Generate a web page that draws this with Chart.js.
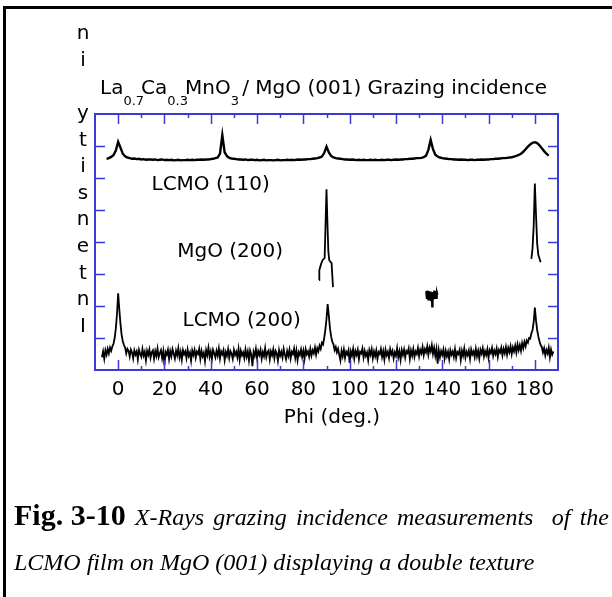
<!DOCTYPE html>
<html>
<head>
<meta charset="utf-8">
<title>LCMO / MgO grazing incidence phi scan</title>
<script src="https://cdn.jsdelivr.net/npm/chart.js@4.4.1/dist/chart.umd.min.js"></script>
<style>
  html, body { margin: 0; padding: 0; background: #fff; overflow: hidden; }
  #page { position: relative; width: 612px; height: 597px; overflow: hidden; }
  #border { position: absolute; left: 3px; top: 6px; width: 700px; height: 700px;
            border-left: 3px solid #000; border-top: 3px solid #000; }
  #plot { position: absolute; left: 0; top: 0; }
  .cap { position: absolute; left: 14px; font-family: "Liberation Serif", "Times New Roman", serif;
         font-size: 24px; font-style: italic; line-height: 30px; white-space: nowrap; }
  .cap b { display: inline-block; font-style: normal; font-size: 30px; line-height: 30px; }
  #cap1 { top: 500px; width: 595px; white-space: normal; text-align: justify; text-align-last: justify; }
  #cap2 { top: 547px; }
</style>
</head>
<body>
<div id="page">
  <div id="border"></div>
  <canvas id="plot" width="612" height="597"></canvas>
  <div class="cap" id="cap1"><b>Fig. 3-10</b> X-Rays grazing incidence measurements &nbsp;of the</div>
  <div class="cap" id="cap2">LCMO film on MgO (001) displaying a double texture</div>
</div>
<script>
// LCMO (110) scan, offset to the top of the plot (1 deg steps)
var phi110 = [
  -5, -4, -3, -2, -1, 0, 1, 2,
  3, 4, 5, 6, 7, 8, 9, 10, 11, 12,
  13, 14, 15, 16, 17, 18, 19, 20, 21, 22,
  23, 24, 25, 26, 27, 28, 29, 30, 31, 32,
  33, 34, 35, 36, 37, 38, 39, 40, 41, 42,
  43, 44, 45, 46, 47, 48, 49, 50, 51, 52,
  53, 54, 55, 56, 57, 58, 59, 60, 61, 62,
  63, 64, 65, 66, 67, 68, 69, 70, 71, 72,
  73, 74, 75, 76, 77, 78, 79, 80, 81, 82,
  83, 84, 85, 86, 87, 88, 89, 90, 91, 92,
  93, 94, 95, 96, 97, 98, 99, 100, 101, 102,
  103, 104, 105, 106, 107, 108, 109, 110, 111, 112,
  113, 114, 115, 116, 117, 118, 119, 120, 121, 122,
  123, 124, 125, 126, 127, 128, 129, 130, 131, 132,
  133, 134, 135, 136, 137, 138, 139, 140, 141, 142,
  143, 144, 145, 146, 147, 148, 149, 150, 151, 152,
  153, 154, 155, 156, 157, 158, 159, 160, 161, 162,
  163, 164, 165, 166, 167, 168, 169, 170, 171, 172,
  173, 174, 175, 176, 177, 178, 179, 180, 181, 182,
  183, 184, 185, 186
];
var lcmo110 = [
  6.60, 6.62, 6.66, 6.72, 6.86, 7.13, 6.95, 6.76,
  6.68, 6.64, 6.62, 6.60, 6.61, 6.59, 6.60, 6.58, 6.59, 6.57,
  6.58, 6.58, 6.57, 6.58, 6.56, 6.57, 6.58, 6.56, 6.57, 6.56,
  6.57, 6.55, 6.56, 6.57, 6.55, 6.56, 6.56, 6.57, 6.56, 6.57,
  6.56, 6.57, 6.57, 6.58, 6.57, 6.58, 6.58, 6.59, 6.60, 6.62,
  6.64, 6.76, 7.34, 6.80, 6.68, 6.63, 6.61, 6.60, 6.59, 6.58,
  6.58, 6.57, 6.58, 6.56, 6.57, 6.57, 6.56, 6.57, 6.55, 6.56,
  6.57, 6.55, 6.56, 6.56, 6.55, 6.56, 6.57, 6.55, 6.56, 6.56,
  6.57, 6.56, 6.57, 6.56, 6.57, 6.58, 6.57, 6.58, 6.58, 6.59,
  6.59, 6.60, 6.61, 6.62, 6.64, 6.67, 6.78, 6.98, 6.80, 6.69,
  6.64, 6.62, 6.61, 6.60, 6.59, 6.58, 6.58, 6.57, 6.58, 6.57,
  6.56, 6.57, 6.56, 6.57, 6.56, 6.56, 6.57, 6.56, 6.57, 6.56,
  6.56, 6.57, 6.56, 6.57, 6.57, 6.56, 6.57, 6.58, 6.57, 6.58,
  6.58, 6.59, 6.59, 6.60, 6.60, 6.61, 6.62, 6.62, 6.63, 6.65,
  6.70, 6.88, 7.19, 6.90, 6.73, 6.67, 6.64, 6.62, 6.61, 6.60,
  6.59, 6.59, 6.58, 6.58, 6.57, 6.58, 6.57, 6.57, 6.56, 6.57,
  6.57, 6.56, 6.57, 6.57, 6.58, 6.57, 6.58, 6.58, 6.59, 6.59,
  6.60, 6.60, 6.61, 6.62, 6.62, 6.63, 6.64, 6.65, 6.67, 6.69,
  6.72, 6.76, 6.82, 6.90, 6.98, 7.05, 7.10, 7.12, 7.09, 7.02,
  6.93, 6.84, 6.76, 6.70
];

// LCMO (200) scan, bottom trace (0.5 deg steps)
var phi200 = [
  -7, -6.5, -6, -5.5, -5, -4.5, -4, -3.5, -3, -2.5, -2, -1.5, -1, -0.5, 0, 0.5, 1, 1.5, 2, 2.5,
  3, 3.5, 4, 4.5, 5, 5.5, 6, 6.5, 7, 7.5, 8, 8.5, 9, 9.5, 10, 10.5, 11, 11.5, 12, 12.5,
  13, 13.5, 14, 14.5, 15, 15.5, 16, 16.5, 17, 17.5, 18, 18.5, 19, 19.5, 20, 20.5, 21, 21.5, 22, 22.5,
  23, 23.5, 24, 24.5, 25, 25.5, 26, 26.5, 27, 27.5, 28, 28.5, 29, 29.5, 30, 30.5, 31, 31.5, 32, 32.5,
  33, 33.5, 34, 34.5, 35, 35.5, 36, 36.5, 37, 37.5, 38, 38.5, 39, 39.5, 40, 40.5, 41, 41.5, 42, 42.5,
  43, 43.5, 44, 44.5, 45, 45.5, 46, 46.5, 47, 47.5, 48, 48.5, 49, 49.5, 50, 50.5, 51, 51.5, 52, 52.5,
  53, 53.5, 54, 54.5, 55, 55.5, 56, 56.5, 57, 57.5, 58, 58.5, 59, 59.5, 60, 60.5, 61, 61.5, 62, 62.5,
  63, 63.5, 64, 64.5, 65, 65.5, 66, 66.5, 67, 67.5, 68, 68.5, 69, 69.5, 70, 70.5, 71, 71.5, 72, 72.5,
  73, 73.5, 74, 74.5, 75, 75.5, 76, 76.5, 77, 77.5, 78, 78.5, 79, 79.5, 80, 80.5, 81, 81.5, 82, 82.5,
  83, 83.5, 84, 84.5, 85, 85.5, 86, 86.5, 87, 87.5, 88, 88.5, 89, 89.5, 90, 90.5, 91, 91.5, 92, 92.5,
  93, 93.5, 94, 94.5, 95, 95.5, 96, 96.5, 97, 97.5, 98, 98.5, 99, 99.5, 100, 100.5, 101, 101.5, 102, 102.5,
  103, 103.5, 104, 104.5, 105, 105.5, 106, 106.5, 107, 107.5, 108, 108.5, 109, 109.5, 110, 110.5, 111, 111.5, 112, 112.5,
  113, 113.5, 114, 114.5, 115, 115.5, 116, 116.5, 117, 117.5, 118, 118.5, 119, 119.5, 120, 120.5, 121, 121.5, 122, 122.5,
  123, 123.5, 124, 124.5, 125, 125.5, 126, 126.5, 127, 127.5, 128, 128.5, 129, 129.5, 130, 130.5, 131, 131.5, 132, 132.5,
  133, 133.5, 134, 134.5, 135, 135.5, 136, 136.5, 137, 137.5, 138, 138.5, 139, 139.5, 140, 140.5, 141, 141.5, 142, 142.5,
  143, 143.5, 144, 144.5, 145, 145.5, 146, 146.5, 147, 147.5, 148, 148.5, 149, 149.5, 150, 150.5, 151, 151.5, 152, 152.5,
  153, 153.5, 154, 154.5, 155, 155.5, 156, 156.5, 157, 157.5, 158, 158.5, 159, 159.5, 160, 160.5, 161, 161.5, 162, 162.5,
  163, 163.5, 164, 164.5, 165, 165.5, 166, 166.5, 167, 167.5, 168, 168.5, 169, 169.5, 170, 170.5, 171, 171.5, 172, 172.5,
  173, 173.5, 174, 174.5, 175, 175.5, 176, 176.5, 177, 177.5, 178, 178.5, 179, 179.5, 180, 180.5, 181, 181.5, 182, 182.5,
  183, 183.5, 184, 184.5, 185, 185.5, 186, 186.5, 187, 187.5, 188
];
var lcmo200 = [
  0.40, 0.58, 0.35, 0.62, 0.48, 0.66, 0.52, 0.70, 0.60, 0.74, 0.82, 1.00, 1.30, 1.75, 2.40, 1.90, 1.45, 1.10, 0.90, 0.78,
  0.70, 0.52, 0.66, 0.60, 0.42, 0.64, 0.55, 0.36, 0.61, 0.48, 0.58, 0.33, 0.63, 0.50, 0.41, 0.66, 0.45, 0.57, 0.30, 0.60,
  0.47, 0.64, 0.38, 0.55, 0.61, 0.35, 0.59, 0.44, 0.67, 0.40, 0.52, 0.62, 0.37, 0.58, 0.15, 0.56, 0.48, 0.63, 0.34, 0.59,
  0.43, 0.65, 0.51, 0.36, 0.60, 0.46, 0.68, 0.39, 0.57, 0.32, 0.62, 0.49, 0.58, 0.37, 0.64, 0.44, 0.55, 0.29, 0.61, 0.47,
  0.63, 0.38, 0.57, 0.50, 0.66, 0.35, 0.60, 0.43, 0.54, 0.28, 0.62, 0.46, 0.69, 0.41, 0.58, 0.34, 0.63, 0.52, 0.39, 0.60,
  0.45, 0.67, 0.36, 0.58, 0.49, 0.62, 0.31, 0.56, 0.44, 0.65, 0.38, 0.59, 0.51, 0.35, 0.63, 0.47, 0.57, 0.40, 0.66, 0.33,
  0.60, 0.46, 0.55, 0.37, 0.64, 0.42, 0.58, 0.30, 0.61, 0.49, 0.12, 0.57, 0.44, 0.66, 0.38, 0.59, 0.47, 0.63, 0.35, 0.56,
  0.43, 0.68, 0.40, 0.55, 0.61, 0.33, 0.58, 0.46, 0.64, 0.37, 0.60, 0.52, 0.29, 0.62, 0.45, 0.57, 0.39, 0.66, 0.48, 0.34,
  0.59, 0.44, 0.63, 0.36, 0.57, 0.50, 0.67, 0.38, 0.61, 0.31, 0.56, 0.47, 0.64, 0.41, 0.60, 0.35, 0.65, 0.49, 0.58, 0.42,
  0.66, 0.45, 0.62, 0.52, 0.70, 0.48, 0.68, 0.58, 0.76, 0.66, 0.85, 0.80, 1.00, 1.25, 1.60, 2.06, 1.70, 1.30, 1.05, 0.88,
  0.80, 0.62, 0.72, 0.55, 0.66, 0.48, 0.30, 0.60, 0.43, 0.64, 0.38, 0.57, 0.49, 0.62, 0.22, 0.58, 0.45, 0.66, 0.36, 0.59,
  0.47, 0.63, 0.34, 0.57, 0.52, 0.67, 0.39, 0.60, 0.44, 0.55, 0.31, 0.62, 0.48, 0.65, 0.37, 0.58, 0.43, 0.61, 0.35, 0.56,
  0.50, 0.66, 0.41, 0.59, 0.33, 0.63, 0.46, 0.57, 0.38, 0.65, 0.49, 0.60, 0.36, 0.55, 0.44, 0.68, 0.40, 0.58, 0.32, 0.62,
  0.47, 0.64, 0.39, 0.59, 0.53, 0.67, 0.35, 0.61, 0.45, 0.66, 0.41, 0.58, 0.50, 0.69, 0.43, 0.63, 0.52, 0.72, 0.46, 0.65,
  0.55, 0.74, 0.48, 0.70, 0.58, 0.78, 0.50, 0.69, 0.44, 0.66, 0.20, 0.62, 0.40, 0.59, 0.47, 0.64, 0.36, 0.60, 0.43, 0.57,
  0.34, 0.62, 0.48, 0.58, 0.41, 0.65, 0.37, 0.56, 0.50, 0.63, 0.32, 0.60, 0.45, 0.67, 0.39, 0.57, 0.46, 0.61, 0.35, 0.64,
  0.49, 0.58, 0.40, 0.66, 0.43, 0.60, 0.36, 0.63, 0.51, 0.68, 0.42, 0.59, 0.47, 0.65, 0.38, 0.62, 0.53, 0.69, 0.44, 0.61,
  0.50, 0.67, 0.41, 0.63, 0.55, 0.70, 0.46, 0.66, 0.52, 0.72, 0.48, 0.69, 0.56, 0.74, 0.50, 0.71, 0.58, 0.76, 0.55, 0.80,
  0.62, 0.78, 0.60, 0.84, 0.68, 0.88, 0.74, 0.92, 0.85, 1.00, 0.98, 1.15, 1.25, 1.50, 1.95, 1.55, 1.25, 1.05, 0.90, 0.78,
  0.72, 0.55, 0.68, 0.46, 0.63, 0.52, 0.70, 0.40, 0.64, 0.48, 0.58
];

// MgO (200) scan: only the parts that show, null between pieces
var mgoPhi = [
  86.8, 86.9, 87.6, 88.3, 89.2, 89.6, 90.0, 90.4, 90.8, 91.2, 92.2, 92.8,
  110,
  133.0, 133.3, 133.6, 133.9, 134.2, 134.5, 134.8, 135.1, 135.4, 135.6, 135.9,
  136.2, 136.5, 136.8, 137.1, 137.4, 137.7, 138.0,
  160,
  178.5, 179.0, 179.5, 180.0, 180.5, 181.0, 181.5, 182.5
];
var mgo200 = [
  2.81, 3.12, 3.30, 3.43, 3.50, 4.60, 5.65, 4.60, 3.70, 3.43, 3.34, 2.59,
  null,
  2.46, 2.22, 2.48, 2.20, 2.47, 2.18, 2.45, 2.15, 2.40, 1.98, 2.44,
  2.20, 2.48, 2.22, 2.46, 2.25, 2.44, 2.36,
  null,
  3.47, 3.80, 4.50, 5.83, 4.85, 3.95, 3.60, 3.37
];

var xTickValues = [0, 20, 40, 60, 80, 100, 120, 140, 160, 180];
var xMinorValues = [10, 30, 50, 70, 90, 110, 130, 150, 170];
var yTickValues = [1, 2, 3, 4, 5, 6, 7];

var curveLabels = [
  { text: 'LCMO (110)', phi: 14.4, y: 5.62 },
  { text: 'MgO (200)', phi: 25.5, y: 3.52 },
  { text: 'LCMO (200)', phi: 27.8, y: 1.37 }
];

var titleParts = [['La', '0.7'], ['Ca', '0.3'], ['MnO', '3'], [' / MgO (001) Grazing incidence', '']];
var yTitle = 'Intensity in';
var xTitle = 'Phi (deg.)';

var axisBlue = '#3a3ad6';
var font = 'DejaVu Sans';

function points(xs, ys) {
  return xs.map(function (p, i) { return { x: p, y: ys[i] }; });
}

// blue box with inward ticks on all four sides
var frameTicks = {
  id: 'frameTicks',
  afterDatasetsDraw: function (chart) {
    var ctx = chart.ctx, a = chart.chartArea, x = chart.scales.x, y = chart.scales.y;
    ctx.save();
    ctx.strokeStyle = axisBlue;
    ctx.lineWidth = 2;
    ctx.strokeRect(a.left, a.top, a.right - a.left, a.bottom - a.top);
    ctx.lineWidth = 1.5;
    ctx.beginPath();
    xTickValues.forEach(function (v) {
      var px = Math.round(x.getPixelForValue(v)) + 0.5;
      ctx.moveTo(px, a.bottom); ctx.lineTo(px, a.bottom - 10);
      ctx.moveTo(px, a.top); ctx.lineTo(px, a.top + 10);
    });
    xMinorValues.forEach(function (v) {
      var px = Math.round(x.getPixelForValue(v)) + 0.5;
      ctx.moveTo(px, a.bottom); ctx.lineTo(px, a.bottom - 4);
      ctx.moveTo(px, a.top); ctx.lineTo(px, a.top + 4);
    });
    yTickValues.forEach(function (v) {
      var py = Math.round(y.getPixelForValue(v)) + 0.5;
      ctx.moveTo(a.left, py); ctx.lineTo(a.left + 10, py);
      ctx.moveTo(a.right, py); ctx.lineTo(a.right - 10, py);
    });
    ctx.stroke();
    ctx.restore();
  }
};

// title with subscripts, stacked y title, x title and curve labels
var annotate = {
  id: 'annotate',
  afterDraw: function (chart) {
    var ctx = chart.ctx, x = chart.scales.x, y = chart.scales.y;
    ctx.save();
    ctx.fillStyle = '#000';
    ctx.textBaseline = 'alphabetic';
    ctx.textAlign = 'left';

    var cx = 100;
    titleParts.forEach(function (part) {
      ctx.font = '20px "' + font + '"';
      ctx.fillText(part[0], cx, 94);
      cx += ctx.measureText(part[0]).width;
      if (part[1]) {
        ctx.font = '13px "' + font + '"';
        ctx.fillText(part[1], cx, 105);
        cx += ctx.measureText(part[1]).width - 3;
      }
    });

    ctx.font = '20px "' + font + '"';
    ctx.textAlign = 'center';
    for (var i = 0; i < yTitle.length; i++) {
      ctx.fillText(yTitle[i], 83, 331.7 - 26.6 * i);
    }
    ctx.fillText(xTitle, 332, 423);

    ctx.textAlign = 'left';
    curveLabels.forEach(function (l) {
      ctx.fillText(l.text, x.getPixelForValue(l.phi), y.getPixelForValue(l.y));
    });
    ctx.restore();
  }
};

new Chart(document.getElementById('plot').getContext('2d'), {
  type: 'line',
  data: {
    datasets: [
      { label: 'LCMO (110)', data: points(phi110, lcmo110), borderColor: '#000', borderWidth: 2.4 },
      { label: 'MgO (200)', data: points(mgoPhi, mgo200), borderColor: '#000', borderWidth: 1.8 },
      { label: 'LCMO (200)', data: points(phi200, lcmo200), borderColor: '#000', borderWidth: 1.8 }
    ]
  },
  options: {
    responsive: false,
    animation: false,
    spanGaps: false,
    elements: { point: { radius: 0 }, line: { tension: 0 } },
    layout: { padding: { left: 95, right: 54, top: 114, bottom: 0 } },
    plugins: { legend: { display: false }, tooltip: { enabled: false } },
    scales: {
      x: {
        type: 'linear',
        min: -10,
        max: 190,
        afterBuildTicks: function (s) {
          s.ticks = xTickValues.map(function (v) { return { value: v }; });
        },
        afterFit: function (s) { s.height = 597 - 370; },
        grid: { display: false, drawTicks: false },
        border: { display: false },
        ticks: {
          color: '#000',
          padding: 8,
          maxRotation: 0,
          autoSkip: false,
          font: { family: font, size: 20 }
        }
      },
      y: {
        display: false,
        min: 0,
        max: 8
      }
    }
  },
  plugins: [frameTicks, annotate]
});
</script>
</body>
</html>
